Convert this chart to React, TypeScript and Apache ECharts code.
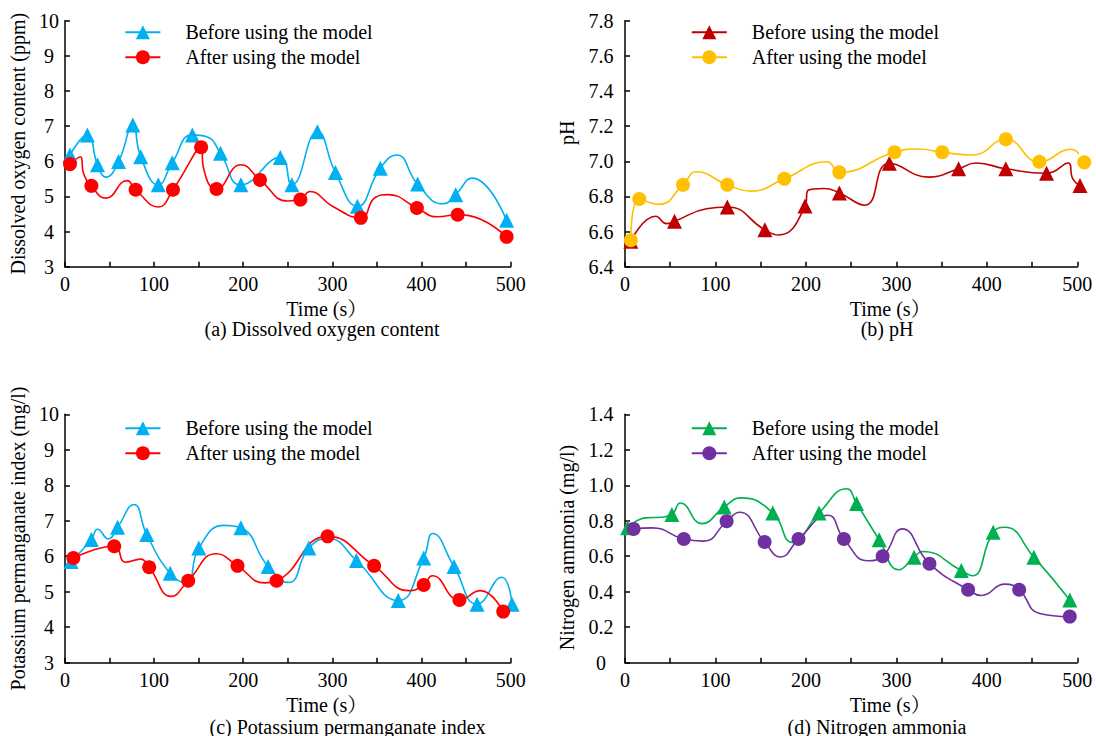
import React, { useEffect, useRef } from "react";
import * as echarts from "echarts";

const FONT = '"Liberation Serif", "Times New Roman", "Noto Serif CJK SC", "Noto Sans CJK SC", serif';

// [time (s), value, 1 = marker drawn / 0 = curve point only]
type Pt = [number, number, number];

const xTickLabels = [0, 100, 200, 300, 400, 500];
const legendNames = ["Before using the model", "After using the model"];

// (a) Dissolved oxygen content
const doBefore: Pt[] = [
  [5.7, 6.18, 1], [25.2, 6.75, 1], [36.6, 5.9, 1], [46, 5.55, 0], [60.2, 5.99, 1], [76.2, 7.03, 1],
  [85, 6.13, 1], [104.8, 5.33, 1], [120.4, 5.96, 1], [142.9, 6.75, 1], [159, 6.7, 0], [174.5, 6.23, 1],
  [197.4, 5.33, 1], [241.6, 6.11, 1], [254.6, 5.33, 1], [283.2, 6.84, 1], [303.4, 5.68, 1], [328.1, 4.72, 1],
  [353.7, 5.8, 1], [372, 6.18, 0], [395.6, 5.35, 1], [424, 4.79, 0], [438.3, 5.05, 1], [456.6, 5.52, 0],
  [495.4, 4.32, 1],
];
const doAfter: Pt[] = [
  [5.7, 5.92, 1], [17.5, 6.13, 0], [21, 5.65, 0], [29.7, 5.3, 1], [46, 4.95, 0], [69.7, 5.45, 0],
  [79.3, 5.19, 1], [104.8, 4.7, 0], [121.2, 5.19, 1], [152.8, 6.4, 1], [155.5, 5.8, 0], [170, 5.21, 1],
  [197.4, 5.9, 0], [218.8, 5.47, 1], [250, 4.87, 0], [264.1, 4.91, 1], [274.8, 5.14, 0], [300, 4.72, 0],
  [331.9, 4.39, 1], [348, 4.97, 0], [362.4, 5.05, 0], [394.8, 4.67, 1], [418, 4.42, 0], [440.5, 4.48, 1],
  [452, 4.46, 0], [495.4, 3.85, 1],
];

// (b) pH
const phBefore: Pt[] = [
  [6.4, 6.545, 1], [34, 6.687, 0], [46, 6.645, 0], [54.7, 6.658, 1], [90, 6.73, 0], [113.1, 6.74, 1],
  [154.6, 6.61, 1], [169.7, 6.58, 0], [199, 6.745, 1], [202.5, 6.835, 0], [220, 6.845, 0], [237, 6.82, 1],
  [265, 6.75, 0], [292.2, 6.989, 1], [335.6, 6.91, 0], [368.8, 6.957, 1], [388, 6.99, 0], [421, 6.957, 1],
  [466, 6.932, 1], [490, 6.99, 0], [495, 6.9, 0], [503, 6.862, 1],
];
const phAfter: Pt[] = [
  [6.4, 6.551, 1], [15.8, 6.785, 1], [37.7, 6.755, 0], [64.1, 6.866, 1], [79, 6.94, 0], [113.1, 6.866, 1],
  [139.5, 6.83, 0], [176.1, 6.9, 1], [223.6, 6.997, 0], [236.9, 6.937, 1], [297.9, 7.051, 1], [325, 7.07, 0],
  [350.7, 7.051, 1], [384.6, 7.036, 0], [421, 7.125, 1], [458, 6.997, 1], [492.8, 7.068, 0], [507.7, 6.994, 1],
];

// (c) Potassium permanganate index
const kmnBefore: Pt[] = [
  [6.9, 5.85, 1], [29.7, 6.47, 1], [36.6, 6.76, 0], [48.8, 6.49, 0], [59.1, 6.82, 1], [77.4, 7.46, 0],
  [91.8, 6.61, 1], [118.1, 5.52, 1], [136.4, 5.24, 0], [150.2, 6.23, 1], [178.4, 6.87, 0], [197.4, 6.8, 1],
  [227.9, 5.71, 1], [250.8, 5.26, 0], [273.6, 6.23, 1], [295, 6.5, 0], [327, 5.88, 1], [373.9, 4.75, 1],
  [402.4, 5.95, 1], [412.7, 6.64, 0], [436.4, 5.71, 1], [462.3, 4.65, 1], [490, 5.41, 0], [501.5, 4.65, 1],
];
const kmnAfter: Pt[] = [
  [9.5, 5.95, 1], [55.3, 6.28, 1], [67.8, 5.83, 0], [85, 5.92, 0], [94.5, 5.69, 1], [119.3, 4.87, 0],
  [138.3, 5.31, 1], [169.6, 6.07, 0], [193.6, 5.73, 1], [224, 5.25, 0], [237.4, 5.31, 1], [294.6, 6.56, 1],
  [346.8, 5.73, 1], [386, 5.03, 0], [402.4, 5.19, 1], [412, 5.45, 0], [442.5, 4.77, 1], [466, 5.03, 0],
  [491.6, 4.44, 1],
];

// (d) Nitrogen ammonia
const nhBefore: Pt[] = [
  [3, 0.76, 1], [22.7, 0.816, 0], [40, 0.82, 0], [51.8, 0.835, 1], [61.3, 0.9, 0], [85, 0.784, 0],
  [109.7, 0.878, 1], [128.6, 0.929, 0], [163.4, 0.844, 1], [185, 0.678, 0], [214.5, 0.844, 1], [245, 0.98, 0],
  [256, 0.897, 1], [281, 0.693, 1], [302.6, 0.524, 0], [319.6, 0.595, 1], [329, 0.627, 0], [371.8, 0.52, 1],
  [383.9, 0.49, 0], [407, 0.735, 1], [419.8, 0.763, 0], [452, 0.595, 1], [491.7, 0.354, 1],
];
const nhAfter: Pt[] = [
  [9.5, 0.754, 1], [30, 0.76, 0], [65, 0.697, 1], [87, 0.685, 0], [112.3, 0.797, 1], [126.7, 0.848, 0],
  [154.3, 0.68, 1], [172, 0.596, 0], [191.8, 0.697, 1], [224.3, 0.831, 0], [242, 0.697, 1], [268.5, 0.575, 0],
  [284.8, 0.6, 1], [306.4, 0.754, 0], [336.6, 0.558, 1], [379.3, 0.411, 1], [394, 0.379, 0], [419.8, 0.443, 0],
  [435.7, 0.411, 1], [457.6, 0.279, 0], [491.7, 0.26, 1],
];

interface PanelCfg {
  left: number;
  top: number;
  before: Pt[];
  after: Pt[];
  beforeColor: string;
  afterColor: string;
  yName: string;
  yMin: number;
  yMax: number;
  yStep: number;
  yDigits: number;
  caption: string;
  gridLeft: number;
  gridRight: number;
  gridTop: number;
  gridHeight: number;
  yNameGap: number;
  yNamePad: number[];
  yLabelMargin: number;
  xNameGap: number;
  legendLeft: number;
  legendTop: number;
  capX: number;
  capY: number;
}

const panels: PanelCfg[] = [
  {
    left: 0, top: 0, before: doBefore, after: doAfter, beforeColor: "#00B0F0", afterColor: "#FF0000",
    yName: "Dissolved oxygen content (ppm)", yMin: 3, yMax: 10, yStep: 1, yDigits: 0,
    caption: "(a) Dissolved oxygen content",
    gridLeft: 59.3, gridRight: 37.3, gridTop: 20.7, gridHeight: 246, yNameGap: 30, yNamePad: [0, 0, 0, 0],
    yLabelMargin: 16, xNameGap: 27, legendLeft: 119.4, legendTop: 17.3, capX: 322, capY: 328.5,
  },
  {
    left: 548, top: 0, before: phBefore, after: phAfter, beforeColor: "#C00000", afterColor: "#FFC000",
    yName: "pH", yMin: 6.4, yMax: 7.8, yStep: 0.2, yDigits: 1,
    caption: "(b) pH",
    gridLeft: 77, gridRight: 18.7, gridTop: 20.7, gridHeight: 246, yNameGap: 48, yNamePad: [0, 0, 0, 22],
    yLabelMargin: 24, xNameGap: 27, legendLeft: 137.8, legendTop: 17.3, capX: 339, capY: 328.5,
  },
  {
    left: 0, top: 368, before: kmnBefore, after: kmnAfter, beforeColor: "#00B0F0", afterColor: "#FF0000",
    yName: "Potassium permanganate index (mg/l)", yMin: 3, yMax: 10, yStep: 1, yDigits: 0,
    caption: "(c) Potassium permanganate index",
    gridLeft: 59.3, gridRight: 37.3, gridTop: 46.3, gridHeight: 248.4, yNameGap: 35, yNamePad: [0, 0, 0, 0],
    yLabelMargin: 16, xNameGap: 29, legendLeft: 119.4, legendTop: 45.3, capX: 347.5, capY: 358.5,
  },
  {
    left: 548, top: 368, before: nhBefore, after: nhAfter, beforeColor: "#00B050", afterColor: "#7030A0",
    yName: "Nitrogen ammonia (mg/l)", yMin: 0, yMax: 1.4, yStep: 0.2, yDigits: 1,
    caption: "(d) Nitrogen ammonia",
    gridLeft: 77, gridRight: 18.7, gridTop: 46.3, gridHeight: 248.4, yNameGap: 48, yNamePad: [0, 18, 0, 0],
    yLabelMargin: 24, xNameGap: 29, legendLeft: 137.8, legendTop: 45.3, capX: 329, capY: 358.5,
  },
];

const toData = (pts: Pt[]) =>
  pts.map(([t, v, m]) => (m ? { value: [t, v] } : { value: [t, v], symbol: "none" }));

function buildOption(p: PanelCfg): echarts.EChartsOption {
  const txt = { fontFamily: FONT, fontSize: 20, color: "#000" };
  const axisLine = { show: true, lineStyle: { color: "#000", width: 1.5 } };
  const axisTick = { show: true, inside: true, length: 5, lineStyle: { color: "#000", width: 1.5 } };
  const line = (name: string, pts: Pt[], color: string, symbol: string, size: number) => ({
    type: "line" as const,
    name,
    data: toData(pts),
    symbol,
    symbolSize: size,
    smooth: 0.5,
    clip: false,
    lineStyle: { color, width: 1.6 },
    itemStyle: { color },
    emphasis: { disabled: true },
  });
  return {
    animation: false,
    textStyle: { fontFamily: FONT },
    grid: { left: p.gridLeft, right: p.gridRight, top: p.gridTop, height: p.gridHeight },
    legend: {
      orient: "vertical",
      left: p.legendLeft,
      top: p.legendTop,
      itemWidth: 35,
      itemHeight: 17.5,
      itemGap: 5,
      data: legendNames,
      textStyle: { ...txt, lineHeight: 20, padding: [0, 0, 0, 20] },
    },
    xAxis: {
      type: "value",
      min: 0,
      max: 500,
      interval: 50,
      name: "Time (s）",
      nameLocation: "middle",
      nameGap: p.xNameGap,
      nameTextStyle: { ...txt, lineHeight: 20, padding: [0, 0, 0, 78] },
      axisLine,
      axisTick,
      splitLine: { show: false },
      axisLabel: {
        ...txt,
        margin: 7,
        formatter: (v: number) => (xTickLabels.includes(v) ? String(v) : ""),
      },
    },
    yAxis: {
      type: "value",
      min: p.yMin,
      max: p.yMax,
      interval: p.yStep,
      name: p.yName,
      nameLocation: "middle",
      nameGap: p.yNameGap,
      nameTextStyle: { ...txt, padding: p.yNamePad },
      axisLine,
      axisTick,
      splitLine: { show: false },
      axisLabel: {
        ...txt,
        align: "center",
        margin: p.yLabelMargin,
        formatter: (v: number) => (Math.abs(v) < 1e-9 ? "0" : v.toFixed(p.yDigits)),
      },
    },
    graphic: [
      {
        type: "text",
        x: p.capX,
        y: p.capY,
        style: {
          text: p.caption,
          fontFamily: FONT,
          fontSize: 20,
          lineHeight: 20,
          fill: "#000",
          align: "center",
          verticalAlign: "middle",
        } as any,
      },
    ],
    series: [
      line(legendNames[0], p.before, p.beforeColor, "triangle", 15),
      line(legendNames[1], p.after, p.afterColor, "circle", 14),
    ],
  } as echarts.EChartsOption;
}

function Panel({ cfg }: { cfg: PanelCfg }) {
  const ref = useRef<HTMLDivElement>(null);
  useEffect(() => {
    if (!ref.current) return;
    const chart = echarts.init(ref.current, undefined, { renderer: "svg" });
    chart.setOption(buildOption(cfg));
    return () => chart.dispose();
  }, [cfg]);
  return (
    <div
      ref={ref}
      style={{ position: "absolute", left: cfg.left, top: cfg.top, width: 548, height: 368 }}
    />
  );
}

export default function App() {
  return (
    <div
      style={{
        position: "fixed",
        left: 0,
        top: 0,
        width: 1096,
        height: 736,
        background: "#fff",
        overflow: "hidden",
      }}
    >
      {panels.map((p, i) => (
        <Panel key={i} cfg={p} />
      ))}
    </div>
  );
}
